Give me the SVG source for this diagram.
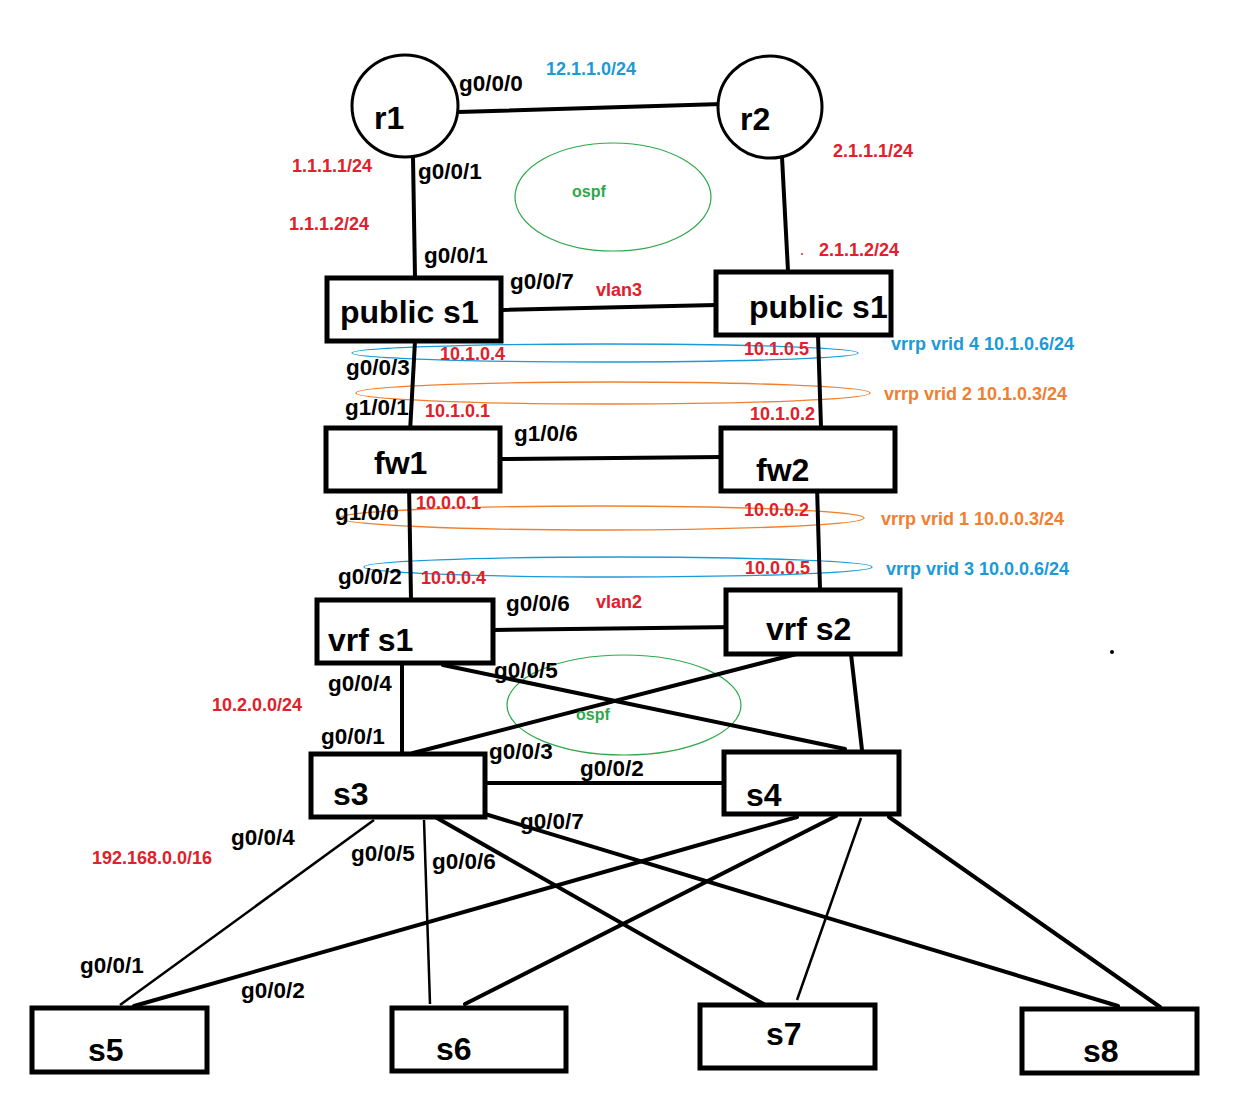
<svg xmlns="http://www.w3.org/2000/svg" width="1235" height="1104" viewBox="0 0 1235 1104">
<style>
.box{fill:#fff;stroke:#000;stroke-width:5}
.rt{fill:#fff;stroke:#000;stroke-width:3}
.ln{stroke:#000;stroke-width:4;fill:none;stroke-linecap:round}
.thin{stroke:#000;stroke-width:2.5;fill:none}
.nl{font-family:"Liberation Sans",Arial,sans-serif;font-weight:bold;font-size:32px;fill:#000}
.pl{font-family:"Liberation Sans",Arial,sans-serif;font-weight:bold;font-size:22.5px;fill:#000}
.red{font-family:"Liberation Sans",Arial,sans-serif;font-weight:bold;font-size:18px;fill:#e0202a}
.blue{font-family:"Liberation Sans",Arial,sans-serif;font-weight:bold;font-size:18px;fill:#1b9ad8}
.org{font-family:"Liberation Sans",Arial,sans-serif;font-weight:bold;font-size:18px;fill:#f08030}
.grn{font-family:"Liberation Sans",Arial,sans-serif;font-weight:bold;font-size:16px;fill:#2ea84a}
.eb{fill:none;stroke:#1b9ad8;stroke-width:1.3}
.eo{fill:none;stroke:#f08030;stroke-width:1.3}
.eg{fill:none;stroke:#2ea84a;stroke-width:1.2}
</style>
<rect width="1235" height="1104" fill="#fff"/>
<g id="areas">
<ellipse class="eg" cx="613" cy="197" rx="98" ry="54"/>
<ellipse class="eg" cx="624" cy="705" rx="117" ry="50"/>
<ellipse class="eb" cx="605" cy="353" rx="253" ry="9"/>
<ellipse class="eo" cx="613" cy="393" rx="257" ry="11"/>
<ellipse class="eo" cx="602" cy="518" rx="262" ry="12"/>
<ellipse class="eb" cx="618" cy="567" rx="254" ry="10"/>
</g>
<g id="connectors">
<line class="ln" x1="458" y1="112" x2="722" y2="104"/>
<line class="ln" x1="413" y1="157" x2="415" y2="277"/>
<line class="ln" x1="782" y1="157" x2="788" y2="271"/>
<line class="ln" x1="501" y1="310" x2="716" y2="305"/>
<line class="ln" x1="415" y1="341" x2="410" y2="432"/>
<line class="ln" x1="818" y1="335" x2="821" y2="427"/>
<line class="ln" x1="500" y1="459" x2="723" y2="457"/>
<line class="ln" x1="409" y1="484" x2="411" y2="599"/>
<line class="ln" x1="817" y1="486" x2="820" y2="589"/>
<line class="ln" x1="493" y1="630" x2="737" y2="627"/>
<line class="ln" x1="402" y1="663" x2="402" y2="753"/>
<line class="ln" x1="443" y1="665" x2="845" y2="749"/>
<line class="ln" x1="812" y1="650" x2="413" y2="753"/>
<line class="ln" x1="851" y1="654" x2="862" y2="750"/>
<line class="ln" x1="485" y1="783" x2="724" y2="783"/>
<line class="thin" x1="374" y1="820" x2="120" y2="1005"/>
<line class="thin" x1="424" y1="820" x2="430" y2="1004"/>
<line class="ln" x1="437" y1="818" x2="767" y2="1006"/>
<line class="ln" x1="485" y1="814" x2="1118" y2="1006"/>
<line class="ln" x1="797" y1="817" x2="134" y2="1006"/>
<line class="ln" x1="836" y1="816" x2="465" y2="1004"/>
<line class="thin" x1="861" y1="818" x2="797" y2="1000"/>
<line class="ln" x1="889" y1="817" x2="1160" y2="1007"/>
</g>
<g id="r1"><ellipse class="rt" cx="405" cy="106" rx="53" ry="51"/><text class="nl" x="374" y="129">r1</text></g>
<g id="r2"><ellipse class="rt" cx="770" cy="107" rx="52" ry="51"/><text class="nl" x="740" y="130">r2</text></g>
<g id="public-s1-left"><rect class="box" x="327" y="278" width="174" height="63"/><text class="nl" x="340" y="323">public s1</text></g>
<g id="public-s1-right"><rect class="box" x="716" y="272" width="175" height="63"/><text class="nl" x="749" y="318">public s1</text></g>
<g id="fw1"><rect class="box" x="326" y="428" width="174" height="63"/><text class="nl" x="374" y="474">fw1</text></g>
<g id="fw2"><rect class="box" x="721" y="428" width="174" height="63"/><text class="nl" x="756" y="481">fw2</text></g>
<g id="vrf-s1"><rect class="box" x="317" y="600" width="176" height="63"/><text class="nl" x="328" y="651">vrf s1</text></g>
<g id="vrf-s2"><rect class="box" x="726" y="590" width="174" height="64"/><text class="nl" x="766" y="640">vrf s2</text></g>
<g id="s3"><rect class="box" x="311" y="754" width="174" height="63"/><text class="nl" x="333" y="805">s3</text></g>
<g id="s4"><rect class="box" x="724" y="752" width="175" height="62"/><text class="nl" x="746" y="806">s4</text></g>
<g id="s5"><rect class="box" x="32" y="1008" width="175" height="64"/><text class="nl" x="88" y="1061">s5</text></g>
<g id="s6"><rect class="box" x="392" y="1008" width="174" height="63"/><text class="nl" x="436" y="1060">s6</text></g>
<g id="s7"><rect class="box" x="700" y="1005" width="175" height="63"/><text class="nl" x="766" y="1045">s7</text></g>
<g id="s8"><rect class="box" x="1022" y="1009" width="175" height="64"/><text class="nl" x="1083" y="1062">s8</text></g>
<g id="labels">
<text class="pl" x="459" y="91">g0/0/0</text>
<text class="blue" x="546" y="75">12.1.1.0/24</text>
<text class="red" x="292" y="172">1.1.1.1/24</text>
<text class="pl" x="418" y="179">g0/0/1</text>
<text class="grn" x="572" y="197">ospf</text>
<text class="red" x="289" y="230">1.1.1.2/24</text>
<text class="pl" x="424" y="263">g0/0/1</text>
<text class="red" x="833" y="157">2.1.1.1/24</text>
<text class="red" x="819" y="256">2.1.1.2/24</text>
<circle cx="802" cy="254" r="1" fill="#e0202a"/>
<text class="pl" x="510" y="289">g0/0/7</text>
<text class="red" x="596" y="296">vlan3</text>
<text class="red" x="440" y="360">10.1.0.4</text>
<text class="red" x="744" y="355">10.1.0.5</text>
<text class="blue" x="891" y="350">vrrp vrid 4 10.1.0.6/24</text>
<text class="pl" x="346" y="375">g0/0/3</text>
<text class="org" x="884" y="400">vrrp vrid 2 10.1.0.3/24</text>
<text class="pl" x="345" y="415">g1/0/1</text>
<text class="red" x="425" y="417">10.1.0.1</text>
<text class="red" x="750" y="420">10.1.0.2</text>
<text class="pl" x="514" y="441">g1/0/6</text>
<text class="pl" x="335" y="520">g1/0/0</text>
<text class="red" x="416" y="509">10.0.0.1</text>
<text class="red" x="744" y="516">10.0.0.2</text>
<text class="org" x="881" y="525">vrrp vrid 1 10.0.0.3/24</text>
<text class="pl" x="338" y="584">g0/0/2</text>
<text class="red" x="421" y="584">10.0.0.4</text>
<text class="red" x="745" y="574">10.0.0.5</text>
<text class="blue" x="886" y="575">vrrp vrid 3 10.0.0.6/24</text>
<text class="pl" x="506" y="611">g0/0/6</text>
<text class="red" x="596" y="608">vlan2</text>
<text class="pl" x="494" y="678">g0/0/5</text>
<text class="pl" x="328" y="691">g0/0/4</text>
<text class="red" x="212" y="711">10.2.0.0/24</text>
<text class="grn" x="576" y="720">ospf</text>
<text class="pl" x="321" y="744">g0/0/1</text>
<text class="pl" x="489" y="759">g0/0/3</text>
<text class="pl" x="580" y="776">g0/0/2</text>
<text class="pl" x="520" y="829">g0/0/7</text>
<text class="pl" x="231" y="845">g0/0/4</text>
<text class="red" x="92" y="864">192.168.0.0/16</text>
<text class="pl" x="351" y="861">g0/0/5</text>
<text class="pl" x="432" y="869">g0/0/6</text>
<text class="pl" x="80" y="973">g0/0/1</text>
<text class="pl" x="241" y="998">g0/0/2</text>
<circle cx="1112" cy="652" r="2" fill="#000"/>
</g>
</svg>
